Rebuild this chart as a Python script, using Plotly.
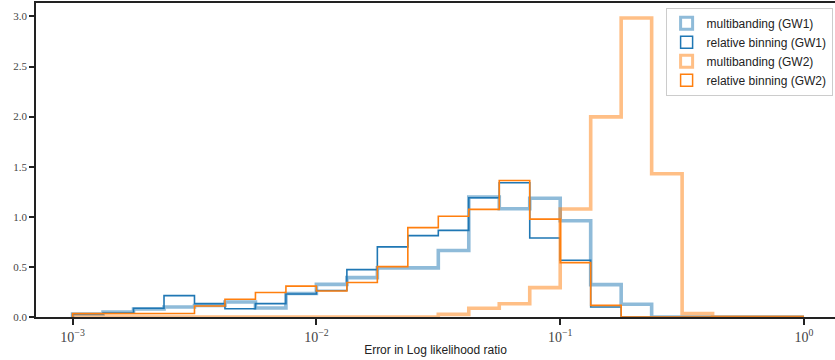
import numpy as np
import plotly.graph_objects as go

# 24 log-spaced bins from 1e-3 to 1e0
bin_edges = np.logspace(-3, 0, 25)

series_names = ["multibanding (GW1)", "relative binning (GW1)",
                "multibanding (GW2)", "relative binning (GW2)"]

mb_gw1 = [0.03, 0.05, 0.08, 0.10, 0.115, 0.15, 0.09, 0.235, 0.326, 0.393, 0.49, 0.49,
          0.664, 1.197, 1.08, 1.185, 0.96, 0.323, 0.128, 0.0, 0.0, 0.0, 0.0, 0.0]
rb_gw1 = [0.03, 0.04, 0.087, 0.213, 0.133, 0.082, 0.133, 0.23, 0.265, 0.473, 0.70, 0.812,
          0.865, 1.19, 1.34, 0.788, 0.567, 0.10, 0.0, 0.0, 0.0, 0.0, 0.0, 0.0]
mb_gw2 = [0.0, 0.0, 0.0, 0.0, 0.0, 0.0, 0.0, 0.0, 0.0, 0.0, 0.0, 0.0,
          0.026, 0.087, 0.132, 0.293, 1.078, 1.997, 2.985, 1.43, 0.034, 0.0, 0.0, 0.0]
rb_gw2 = [0.034, 0.033, 0.035, 0.035, 0.11, 0.177, 0.245, 0.308, 0.26, 0.345, 0.503, 0.892,
          1.005, 1.074, 1.363, 0.977, 0.543, 0.116, 0.0, 0.0, 0.0, 0.0, 0.0, 0.0]

x_ticks = [1e-3, 1e-2, 1e-1, 1e0]
x_tick_labels = ["10<sup>\u22123</sup>", "10<sup>\u22122</sup>", "10<sup>\u22121</sup>", "10<sup>0</sup>"]
y_ticks = [0.0, 0.5, 1.0, 1.5, 2.0, 2.5, 3.0]

styles = [
    dict(color="rgba(31,119,180,0.5)", width=3.6),
    dict(color="rgba(31,119,180,1)", width=1.6),
    dict(color="rgba(255,127,14,0.5)", width=3.6),
    dict(color="rgba(255,127,14,1)", width=1.6),
]
legend_styles = [
    dict(color="rgba(143,187,217,1)", width=3),
    dict(color="rgba(31,119,180,1)", width=1.5),
    dict(color="rgba(255,191,134,1)", width=3),
    dict(color="rgba(255,127,14,1)", width=1.5),
]


def step_xy(edges, vals):
    xs, ys = [edges[0]], [0.0]
    for i, v in enumerate(vals):
        xs += [edges[i], edges[i + 1]]
        ys += [v, v]
    xs.append(edges[-1])
    ys.append(0.0)
    return xs, ys


fig = go.Figure()
for name, vals, st in zip(series_names, [mb_gw1, rb_gw1, mb_gw2, rb_gw2], styles):
    xs, ys = step_xy(bin_edges, vals)
    fig.add_trace(go.Scatter(x=xs, y=ys, mode="lines", line=st, name=name,
                             showlegend=False, hoverinfo="skip"))

for name, st in zip(series_names, legend_styles):
    fig.add_trace(go.Bar(x=[None], y=[None], name=name,
                         marker=dict(color="rgba(255,255,255,0)", line=st)))

serif = "Liberation Serif, DejaVu Serif, serif"
sans = "Liberation Sans, DejaVu Sans, sans-serif"

fig.update_layout(
    width=835, height=360,
    margin=dict(l=36, r=0, t=3, b=43),
    plot_bgcolor="white", paper_bgcolor="white",
    showlegend=True,
    legend=dict(x=0.997, y=0.985, xanchor="right", yanchor="top",
                bgcolor="rgba(255,255,255,0.8)", bordercolor="#cccccc", borderwidth=1,
                font=dict(family=sans, size=12, color="#222"),
                tracegroupgap=0, itemwidth=30),
    xaxis=dict(type="log", range=[-3.15, 0.127],
               tickmode="array", tickvals=x_ticks, ticktext=x_tick_labels,
               ticks="outside", ticklen=6, tickwidth=1.5, tickcolor="#222",
               showline=True, linecolor="#222", linewidth=1.6, mirror=True,
               showgrid=False, zeroline=False,
               tickfont=dict(family=serif, size=14, color="#444"),
               title=dict(text="Error in Log likelihood ratio", standoff=2,
                          font=dict(family=sans, size=12, color="#222"))),
    yaxis=dict(range=[0, 3.134], tickvals=y_ticks, tickformat=".1f",
               ticks="outside", ticklen=5, tickwidth=1.5, tickcolor="#222",
               showline=True, linecolor="#222", linewidth=1.6, mirror=False,
               showgrid=False, zeroline=False,
               tickfont=dict(family=serif, size=11, color="#444")),
)

fig.write_html("out.html")
